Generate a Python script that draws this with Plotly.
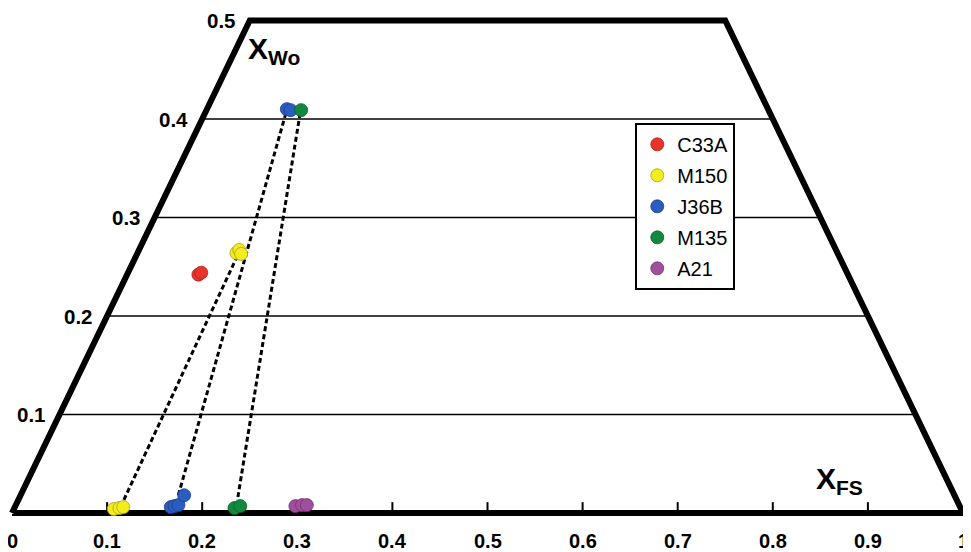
import plotly.graph_objects as go

# ---------------- data ----------------
samples = ["C33A", "M150", "J36B", "M135", "A21"]
sample_colors = ["#e8322a", "#f4ec1f", "#2b5cc0", "#12893f", "#a04f9c"]
edge_colors = ["#b02018", "#a89e10", "#1b3d8a", "#0b5f2a", "#74326f"]

c33a_x = [0.196, 0.199]
c33a_y = [0.242, 0.244]
m150_x = [0.236, 0.239, 0.241, 0.107, 0.113, 0.117]
m150_y = [0.264, 0.267, 0.263, 0.004, 0.005, 0.006]
j36b_x = [0.289, 0.293, 0.167, 0.171, 0.175, 0.181]
j36b_y = [0.410, 0.409, 0.006, 0.007, 0.008, 0.018]
m135_x = [0.304, 0.234, 0.240]
m135_y = [0.409, 0.005, 0.007]
a21_x = [0.298, 0.305, 0.310]
a21_y = [0.007, 0.008, 0.008]

# tie lines (high-Ca pyroxene -> low-Ca pyroxene)
tie_m150_x = [0.237, 0.116]
tie_m150_y = [0.261, 0.010]
tie_j36b_x = [0.288, 0.174]
tie_j36b_y = [0.406, 0.015]
tie_m135_x = [0.303, 0.237]
tie_m135_y = [0.406, 0.013]

# quadrilateral frame and axes ticks
frame_x = [0.0, 1.0, 0.75, 0.25, 0.0]
frame_y = [0.0, 0.0, 0.5, 0.5, 0.0]
wo_ticks = [0.1, 0.2, 0.3, 0.4, 0.5]
wo_labels = ["0.1", "0.2", "0.3", "0.4", "0.5"]
fs_ticks = [0, 0.1, 0.2, 0.3, 0.4, 0.5, 0.6, 0.7, 0.8, 0.9, 1]
fs_labels = ["0", "0.1", "0.2", "0.3", "0.4", "0.5", "0.6", "0.7", "0.8", "0.9", "1"]

FONT = "Liberation Sans, Arial, Helvetica, sans-serif"

fig = go.Figure()

# horizontal Wo lines
for t in wo_ticks[:-1]:
    fig.add_trace(go.Scatter(x=[t / 2, 1 - t / 2], y=[t, t], mode="lines",
                             line=dict(color="black", width=1.6),
                             showlegend=False, hoverinfo="skip"))

# small tick marks on the bottom edge
tx, ty = [], []
for t in fs_ticks[1:-1]:
    tx += [t, t, None]
    ty += [0, 0.011, None]
fig.add_trace(go.Scatter(x=tx, y=ty, mode="lines", line=dict(color="black", width=2),
                         showlegend=False, hoverinfo="skip"))

# frame
fig.add_trace(go.Scatter(x=frame_x, y=frame_y, mode="lines",
                         line=dict(color="black", width=6),
                         showlegend=False, hoverinfo="skip"))

# tie lines
for lx, ly in [(tie_m150_x, tie_m150_y), (tie_j36b_x, tie_j36b_y), (tie_m135_x, tie_m135_y)]:
    fig.add_trace(go.Scatter(x=lx, y=ly, mode="lines",
                             line=dict(color="black", width=3, dash="5px,3px"),
                             showlegend=False, hoverinfo="skip"))

# sample points
pts = [(c33a_x, c33a_y), (m150_x, m150_y), (j36b_x, j36b_y), (m135_x, m135_y), (a21_x, a21_y)]
for name, (px, py), c, ec in zip(samples, pts, sample_colors, edge_colors):
    fig.add_trace(go.Scatter(x=px, y=py, mode="markers", name=name, legendgroup=name,
                             marker=dict(size=13, color=c, line=dict(color=ec, width=0.8))))

annotations = []
for t, lab in zip(wo_ticks, wo_labels):
    annotations.append(dict(x=t / 2, y=t, text="<b>" + lab + "</b>", showarrow=False,
                            xanchor="right", yanchor="middle", xshift=-12,
                            font=dict(size=20.5, color="black", family=FONT)))
for t, lab in zip(fs_ticks, fs_labels):
    annotations.append(dict(x=t, y=0, text="<b>" + lab + "</b>", showarrow=False,
                            xanchor="center", yanchor="top", yshift=-15,
                            font=dict(size=20, color="black", family=FONT)))
annotations.append(dict(x=0.246, y=0.47, text="<b>X<sub>Wo</sub></b>", showarrow=False,
                        xanchor="left", yanchor="middle",
                        font=dict(size=30, color="black", family=FONT)))
annotations.append(dict(x=0.843, y=0.033, text="<b>X<sub>FS</sub></b>", showarrow=False,
                        xanchor="left", yanchor="middle",
                        font=dict(size=30, color="black", family=FONT)))

fig.update_layout(
    width=971, height=552,
    margin=dict(l=0, r=0, t=0, b=0),
    paper_bgcolor="white", plot_bgcolor="white",
    xaxis=dict(range=[-0.004206, 1.01682], visible=False, fixedrange=True),
    yaxis=dict(range=[-0.04772, 0.51269], visible=False, fixedrange=True),
    showlegend=True,
    legend=dict(x=0.646, y=0.792, xanchor="left", yanchor="top",
                bgcolor="white", bordercolor="black", borderwidth=2,
                font=dict(size=20, color="black", family=FONT),
                itemwidth=30, tracegroupgap=2),
    annotations=annotations,
)

fig.write_html("out.html")
